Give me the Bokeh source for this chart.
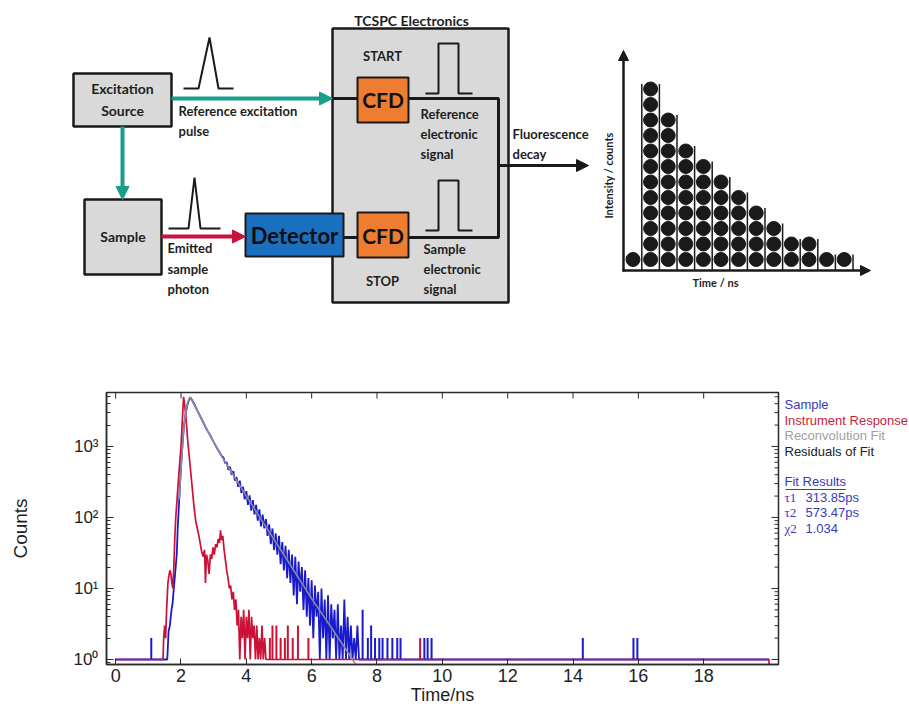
import math
from bokeh.plotting import figure
from bokeh.models import Range1d, Arrow, NormalHead, Label, FixedTicker, LogTicker
from bokeh.layouts import column, row
from bokeh.embed import file_html
from bokeh.resources import INLINE

# ------------------------------------------------------------------ data
# schematic TCSPC histogram (dots per time bin)
decay_counts = [1, 12, 10, 8, 7, 6, 5, 4, 3, 2, 2, 1, 1]

# measured decay (sample), time in ns, counts
sample_t = [0.00, 1.58, 1.62, 1.66, 1.71, 1.74, 1.78, 1.82, 1.87, 1.90,
            1.94, 1.98, 2.02, 2.06, 2.10, 2.15, 2.20, 2.25, 2.30, 2.40,
            2.50, 2.60, 2.70, 2.80, 2.90, 3.00, 3.10, 3.20, 3.25,
            3.30, 3.35, 3.40, 3.45, 3.50, 3.55, 3.60, 3.65, 3.70, 3.75,
            3.80, 3.85, 3.90, 3.95, 4.00, 4.05, 4.10, 4.15, 4.20, 4.25,
            4.30, 4.35, 4.40, 4.45,
            4.50, 4.55, 4.60, 4.65, 4.70, 4.75, 4.80, 4.85, 4.90, 4.95,
            5.00, 5.05, 5.10, 5.15, 5.20, 5.25, 5.30, 5.35, 5.40, 5.45,
            5.50, 5.55, 5.60, 5.65, 5.70, 5.75, 5.80, 5.85, 5.90, 5.95,
            6.00, 6.05, 6.10, 6.15, 6.20, 6.25, 6.30, 6.35, 6.40, 6.45,
            6.50, 6.55, 6.60, 6.65, 6.70, 6.75, 6.80, 6.85, 6.90, 6.95,
            7.00, 7.05, 7.10, 7.15, 7.20, 7.25, 7.30, 7.35, 7.40, 7.45, 20.0]
sample_c = [1, 1, 2.5, 3, 5, 6, 10, 16, 30, 70,
            160, 350, 700, 1300, 2100, 3000, 3900, 4600, 4800, 4000,
            3200, 2600, 2100, 1700, 1420, 1150, 950, 800, 730,
            700, 580, 600, 470, 520, 400, 450, 330, 370, 270,
            330, 220, 270, 180, 235, 150, 205, 125, 175, 110,
            150, 90, 130, 75,
            110, 70, 95, 55, 80, 42, 70, 35, 60, 30,
            55, 22, 45, 18, 40, 14, 35, 12, 30, 8,
            28, 6, 24, 9, 20, 5, 18, 4, 14, 3,
            13, 2, 11, 4, 9, 1, 10, 2, 7, 1,
            8, 1, 6, 2, 5, 1, 6, 1, 3, 1,
            7, 1, 4, 1, 3, 1, 2, 1, 3, 1, 1]
sample_spike_t = [1.09, 7.56, 7.72, 7.82, 7.94, 8.07, 8.17, 8.32, 8.47, 8.62,
                  8.72, 9.45, 9.55, 9.67, 14.30, 15.85, 15.97]
sample_spike_c = [2, 5, 2, 3, 2, 2, 2, 2, 2, 2, 2, 2, 2, 2, 2, 2, 2]

# instrument response function
irf_t = [0.00, 1.45, 1.47, 1.50, 1.53, 1.56, 1.60, 1.63, 1.66, 1.69,
         1.72, 1.75, 1.78, 1.81, 1.84, 1.88, 1.92, 1.96, 2.00, 2.04,
         2.08, 2.12, 2.16, 2.20, 2.25, 2.30, 2.35, 2.40, 2.45, 2.50,
         2.55, 2.60, 2.64, 2.68, 2.72, 2.75, 2.78, 2.82, 2.86, 2.90,
         2.94, 2.98, 3.02, 3.06, 3.10, 3.14, 3.18, 3.21, 3.24, 3.28,
         3.32, 3.36, 3.40, 3.44, 3.48, 3.52, 3.56, 3.60, 3.64, 3.68,
         3.72, 3.76, 3.80, 3.84, 3.88, 3.92, 3.96, 4.00, 4.04, 4.08,
         4.12, 4.16, 4.20, 4.24, 4.28, 4.32, 4.36, 4.40, 4.44, 4.48,
         4.52, 4.56, 4.60, 20.0, 20.0]
irf_c = [1, 1, 2, 3, 2, 5, 12, 15, 18, 16,
         12, 10, 20, 50, 100, 180, 330, 580, 1000, 2300,
         5000, 3600, 2300, 1300, 740, 430, 245, 140, 90, 70,
         55, 40, 32, 28, 35, 12, 30, 25, 16, 30,
         26, 38, 30, 42, 38, 50, 44, 66, 48, 55,
         35, 25, 18, 14, 10, 11, 7, 9, 5, 7,
         3, 5, 1, 4, 2, 5, 1, 4, 2, 5,
         1, 4, 2, 3, 1, 3, 1, 2, 1, 3,
         1, 2, 1, 1, 0.5]
irf_spike_t = [4.72, 4.80, 4.92, 5.05, 5.18, 5.27, 5.42, 5.58, 5.90, 9.32]
irf_spike_c = [2, 3, 3, 2, 2, 3, 2, 3, 2, 2]

# reconvolution fit
fit_t = [1.95, 2.00, 2.05, 2.10, 2.15, 2.20, 2.27, 2.35, 2.50, 2.75,
         3.00, 3.25, 3.50, 4.00, 4.50, 5.00, 5.50, 6.00, 6.50, 7.00, 7.35]
fit_c = [180, 480, 1100, 2100, 3100, 4100, 5000, 4300, 3200, 1900,
         1150, 720, 470, 200, 87, 38, 16.6, 7.2, 3.3, 1.5, 0.85]

x_ticks = [0, 2, 4, 6, 8, 10, 12, 14, 16, 18]
y_major = [1, 10, 100, 1000]
y_tick_labels = {1: "10\u2070", 10: "10\u00b9", 100: "10\u00b2", 1000: "10\u00b3"}

legend_names = ["Sample", "Instrument Response", "Reconvolution Fit", "Residuals of Fit"]
fit_names = ["\u03c41", "\u03c42", "\u03c72"]
fit_values = ["313.85ps", "573.47ps", "1.034"]

# ------------------------------------------------------------------ styles
TEAL = "#1a9e8c"
CRIMSON = "#c8143c"
BLACK = "#1a1a1a"
GREY_FILL = "#d9d9d9"
ORANGE = "#ee7d31"
DET_BLUE = "#1b6fbf"
BLUE = "#1a1acd"
RED = "#cc1036"
FITGREY = "#8c8c9c"
LBLUE = "#3a3ab8"
LRED = "#c41e3a"
AXC = "#2a2a2a"

W = 909
H_TOP = 370
H_BOT = 339
FX0, FX1, FY0, FY1 = 106, 778, 392, 664   # window pixels of the decay-plot frame
W_PLOT = FX1 + 4
W_SIDE = W - W_PLOT

# ------------------------------------------------------------------ top: schematic
p1 = figure(width=W, height=H_TOP, x_range=Range1d(0, W), y_range=Range1d(H_TOP, 0),
            toolbar_location=None, output_backend="svg", min_border=0,
            x_axis_location=None, y_axis_location=None)
p1.outline_line_color = None
p1.grid.visible = False
p1.frame_align = False


def box(p, l, r, t, b, fill, lw=2.5):
    p.quad(left=[l], right=[r], top=[t], bottom=[b], fill_color=fill,
           line_color=BLACK, line_width=lw)


def label(p, x, y, text, size, color="#1e1e1e", font="Lato", bold=True,
          align="left", angle=0.0, baseline="middle"):
    p.add_layout(Label(x=x, y=y, text=text, text_font=font, text_font_size=f"{size}px",
                       text_font_style="bold" if bold else "normal", text_color=color,
                       text_align=align, text_baseline=baseline, angle=angle))


def arrow(p, x0, y0, x1, y1, color, lw, head):
    p.add_layout(Arrow(end=NormalHead(size=head, fill_color=color, line_color=color, line_width=1),
                       x_start=x0, y_start=y0, x_end=x1, y_end=y1,
                       line_color=color, line_width=lw))


box(p1, 332, 508, 28, 302, GREY_FILL)
box(p1, 73, 171, 73, 126, GREY_FILL)
box(p1, 84, 161, 199, 274, GREY_FILL)

# black wiring
p1.line([332, 357], [98, 98], line_color=BLACK, line_width=3)
p1.line([408, 498, 498, 408], [98, 98, 237, 237], line_color=BLACK, line_width=3)
p1.line([343, 357], [237, 237], line_color=BLACK, line_width=3)

box(p1, 245, 343, 213, 256, DET_BLUE, 2)
box(p1, 357, 408, 77, 122, ORANGE, 2)
box(p1, 357, 408, 212, 257, ORANGE, 2)

arrow(p1, 171, 98, 332, 98, TEAL, 4, 13)
arrow(p1, 122, 126, 122, 199, TEAL, 4, 13)
arrow(p1, 161, 236, 245, 236, CRIMSON, 4, 13)
arrow(p1, 498, 165, 588, 165, BLACK, 3, 12)

# pulses
p1.line([183, 198, 209, 218, 233], [88, 88, 37, 88, 88], line_color=BLACK, line_width=2)
p1.line([168, 188, 194, 200, 220], [228, 228, 177, 228, 228], line_color=BLACK, line_width=2)
p1.line([425, 438, 438, 458, 458, 472], [93, 93, 43, 43, 93, 93], line_color=BLACK, line_width=2)
p1.line([425, 438, 438, 458, 458, 472], [230, 230, 180, 180, 230, 230], line_color=BLACK, line_width=2)

# texts
label(p1, 411, 20, "TCSPC Electronics", 14, align="center")
label(p1, 122, 88, "Excitation", 14, align="center")
label(p1, 122, 110, "Source", 14, align="center")
label(p1, 122.5, 236, "Sample", 14, align="center")
label(p1, 382, 55, "START", 13, align="center")
label(p1, 382, 280, "STOP", 13, align="center")
label(p1, 382.5, 99, "CFD", 21, color="#111111", align="center")
label(p1, 382.5, 235, "CFD", 21, color="#111111", align="center")
label(p1, 294, 235, "Detector", 22, color="#0d0d0d", align="center")
label(p1, 178, 110, "Reference excitation", 13)
label(p1, 178, 130, "pulse", 13)
label(p1, 420, 113, "Reference", 13)
label(p1, 420, 133, "electronic", 13)
label(p1, 420, 153, "signal", 13)
label(p1, 167, 247, "Emitted", 13)
label(p1, 167, 268, "sample", 13)
label(p1, 167, 288, "photon", 13)
label(p1, 423, 248, "Sample", 13)
label(p1, 423, 268, "electronic", 13)
label(p1, 423, 288, "signal", 13)
label(p1, 512, 133, "Fluorescence", 13)
label(p1, 512, 153, "decay", 13)

# mini histogram axes
arrow(p1, 623, 271, 623, 50, BLACK, 2.5, 10)
arrow(p1, 622, 270, 870, 270, BLACK, 2.5, 10)
label(p1, 608, 175, "Intensity / counts", 11, angle=math.pi / 2, align="center")
label(p1, 715, 282, "Time / ns", 11, align="center")

COL_X0, COL_DX, ROW_Y0, ROW_DY = 632.5, 17.6, 259.0, 15.5
dot_x, dot_y = [], []
for i, n in enumerate(decay_counts):
    for k in range(n):
        dot_x.append(COL_X0 + COL_DX * i)
        dot_y.append(ROW_Y0 - ROW_DY * k)
p1.scatter(dot_x, dot_y, size=14, fill_color=BLACK, line_color=BLACK)

sep_x0, sep_y0, sep_x1, sep_y1 = [], [], [], []
for i, n in enumerate(decay_counts):
    nxt = decay_counts[i + 1] if i + 1 < len(decay_counts) else n
    h = max(n, nxt)
    xs = COL_X0 + COL_DX * i + COL_DX / 2
    sep_x0.append(xs)
    sep_x1.append(xs)
    sep_y0.append(270)
    sep_y1.append(ROW_Y0 - ROW_DY * (h - 1) - 5)
p1.segment(x0=sep_x0, y0=sep_y0, x1=sep_x1, y1=sep_y1, line_color=BLACK, line_width=1.5)

# ------------------------------------------------------------------ bottom: decay plot
X_START, X_END = -0.28, 20.29
Y_START, Y_END = 0.85, 5750.0


def tx(px):
    return X_START + (px - FX0) * (X_END - X_START) / (FX1 - FX0)


def cy(py):
    a, b = math.log10(Y_START), math.log10(Y_END)
    return 10 ** (a + (FY1 - py) * (b - a) / (FY1 - FY0))


p2 = figure(width=W_PLOT, height=H_BOT, x_range=Range1d(X_START, X_END),
            y_range=Range1d(Y_START, Y_END), y_axis_type="log",
            toolbar_location=None, output_backend="svg",
            min_border_left=FX0, min_border_right=W_PLOT - FX1,
            min_border_top=FY0 - H_TOP, min_border_bottom=H_TOP + H_BOT - FY1)
p2.frame_align = False
p2.grid.visible = False
p2.outline_line_color = AXC
p2.outline_line_width = 1.5

xa = p2.xaxis[0]
xa.ticker = FixedTicker(ticks=x_ticks)
xa.major_tick_in = 6
xa.major_tick_out = 0
xa.minor_tick_line_color = None
xa.axis_line_color = AXC
xa.axis_line_width = 1.5
xa.major_tick_line_color = AXC
xa.major_label_text_font = "Liberation Sans"
xa.major_label_text_font_size = "18px"
xa.major_label_text_color = "#1e1e1e"
xa.major_label_standoff = 4
xa.axis_label = "Time/ns"
xa.axis_label_text_font = "Liberation Sans"
xa.axis_label_text_font_size = "18px"
xa.axis_label_text_font_style = "normal"
xa.axis_label_text_color = "#1e1e1e"
xa.axis_label_standoff = 0

ya = p2.yaxis[0]
ya.ticker = LogTicker(num_minor_ticks=10)
ya.major_label_overrides = y_tick_labels
ya.major_tick_in = 7
ya.major_tick_out = 0
ya.minor_tick_in = 4
ya.minor_tick_out = 0
ya.axis_line_color = AXC
ya.axis_line_width = 1.5
ya.major_tick_line_color = AXC
ya.minor_tick_line_color = AXC
ya.major_label_text_font = "Liberation Sans"
ya.major_label_text_font_size = "17px"
ya.major_label_text_color = "#1e1e1e"
ya.major_label_standoff = 8
ya.axis_label = "Counts"
ya.axis_label_text_font = "Liberation Sans"
ya.axis_label_text_font_size = "19px"
ya.axis_label_text_font_style = "normal"
ya.axis_label_text_color = "#1e1e1e"
ya.axis_label_standoff = 40

# mirrored tick marks on the top and right edges of the frame
n_xt = len(x_ticks)
p2.segment(x0=x_ticks, y0=[Y_END] * n_xt, x1=x_ticks, y1=[cy(FY0 + 6)] * n_xt,
           line_color=AXC, line_width=1)
p2.segment(x0=[X_END] * len(y_major), y0=y_major, x1=[tx(FX1 - 7)] * len(y_major), y1=y_major,
           line_color=AXC, line_width=1)
y_minor = [m * d for d in y_major for m in range(2, 10) if m * d < Y_END]
p2.segment(x0=[X_END] * len(y_minor), y0=y_minor, x1=[tx(FX1 - 4)] * len(y_minor), y1=y_minor,
           line_color=AXC, line_width=1)

p2.line(sample_t, sample_c, line_color=BLUE, line_width=1.8)
p2.segment(x0=sample_spike_t, y0=[1] * len(sample_spike_t), x1=sample_spike_t, y1=sample_spike_c,
           line_color=BLUE, line_width=2)
p2.line(irf_t, irf_c, line_color=RED, line_width=1.7)
p2.segment(x0=irf_spike_t, y0=[1] * len(irf_spike_t), x1=irf_spike_t, y1=irf_spike_c,
           line_color=RED, line_width=2)
p2.line(fit_t, fit_c, line_color=FITGREY, line_width=1.6)

# ------------------------------------------------------------------ side panel: legend & fit results
p3 = figure(width=W_SIDE, height=H_BOT, x_range=Range1d(W_PLOT, W), y_range=Range1d(H_TOP + H_BOT, H_TOP),
            toolbar_location=None, output_backend="svg", min_border=0,
            x_axis_location=None, y_axis_location=None)
p3.outline_line_color = None
p3.grid.visible = False
p3.frame_align = False

legend_colors = [LBLUE, LRED, "#a0a0a0", "#222222"]
legend_py = [404, 420, 435, 451]
for name, col, py in zip(legend_names, legend_colors, legend_py):
    label(p3, 784, py, name, 13, color=col, font="Liberation Sans", bold=False)
label(p3, 784, 481, "Fit Results", 13, color=LBLUE, font="Liberation Sans", bold=False)
p3.line([785, 845], [489, 489], line_color=LBLUE, line_width=1)
fit_py = [497, 512, 528]
for nm, val, py in zip(fit_names, fit_values, fit_py):
    label(p3, 784, py, nm, 13, color=LBLUE, font="Liberation Serif", bold=False)
    label(p3, 805, py, val, 13, color=LBLUE, font="Liberation Sans", bold=False)

layout = column(p1, row(p2, p3, spacing=0), spacing=0)
open("out.html", "w").write(file_html(layout, INLINE))
